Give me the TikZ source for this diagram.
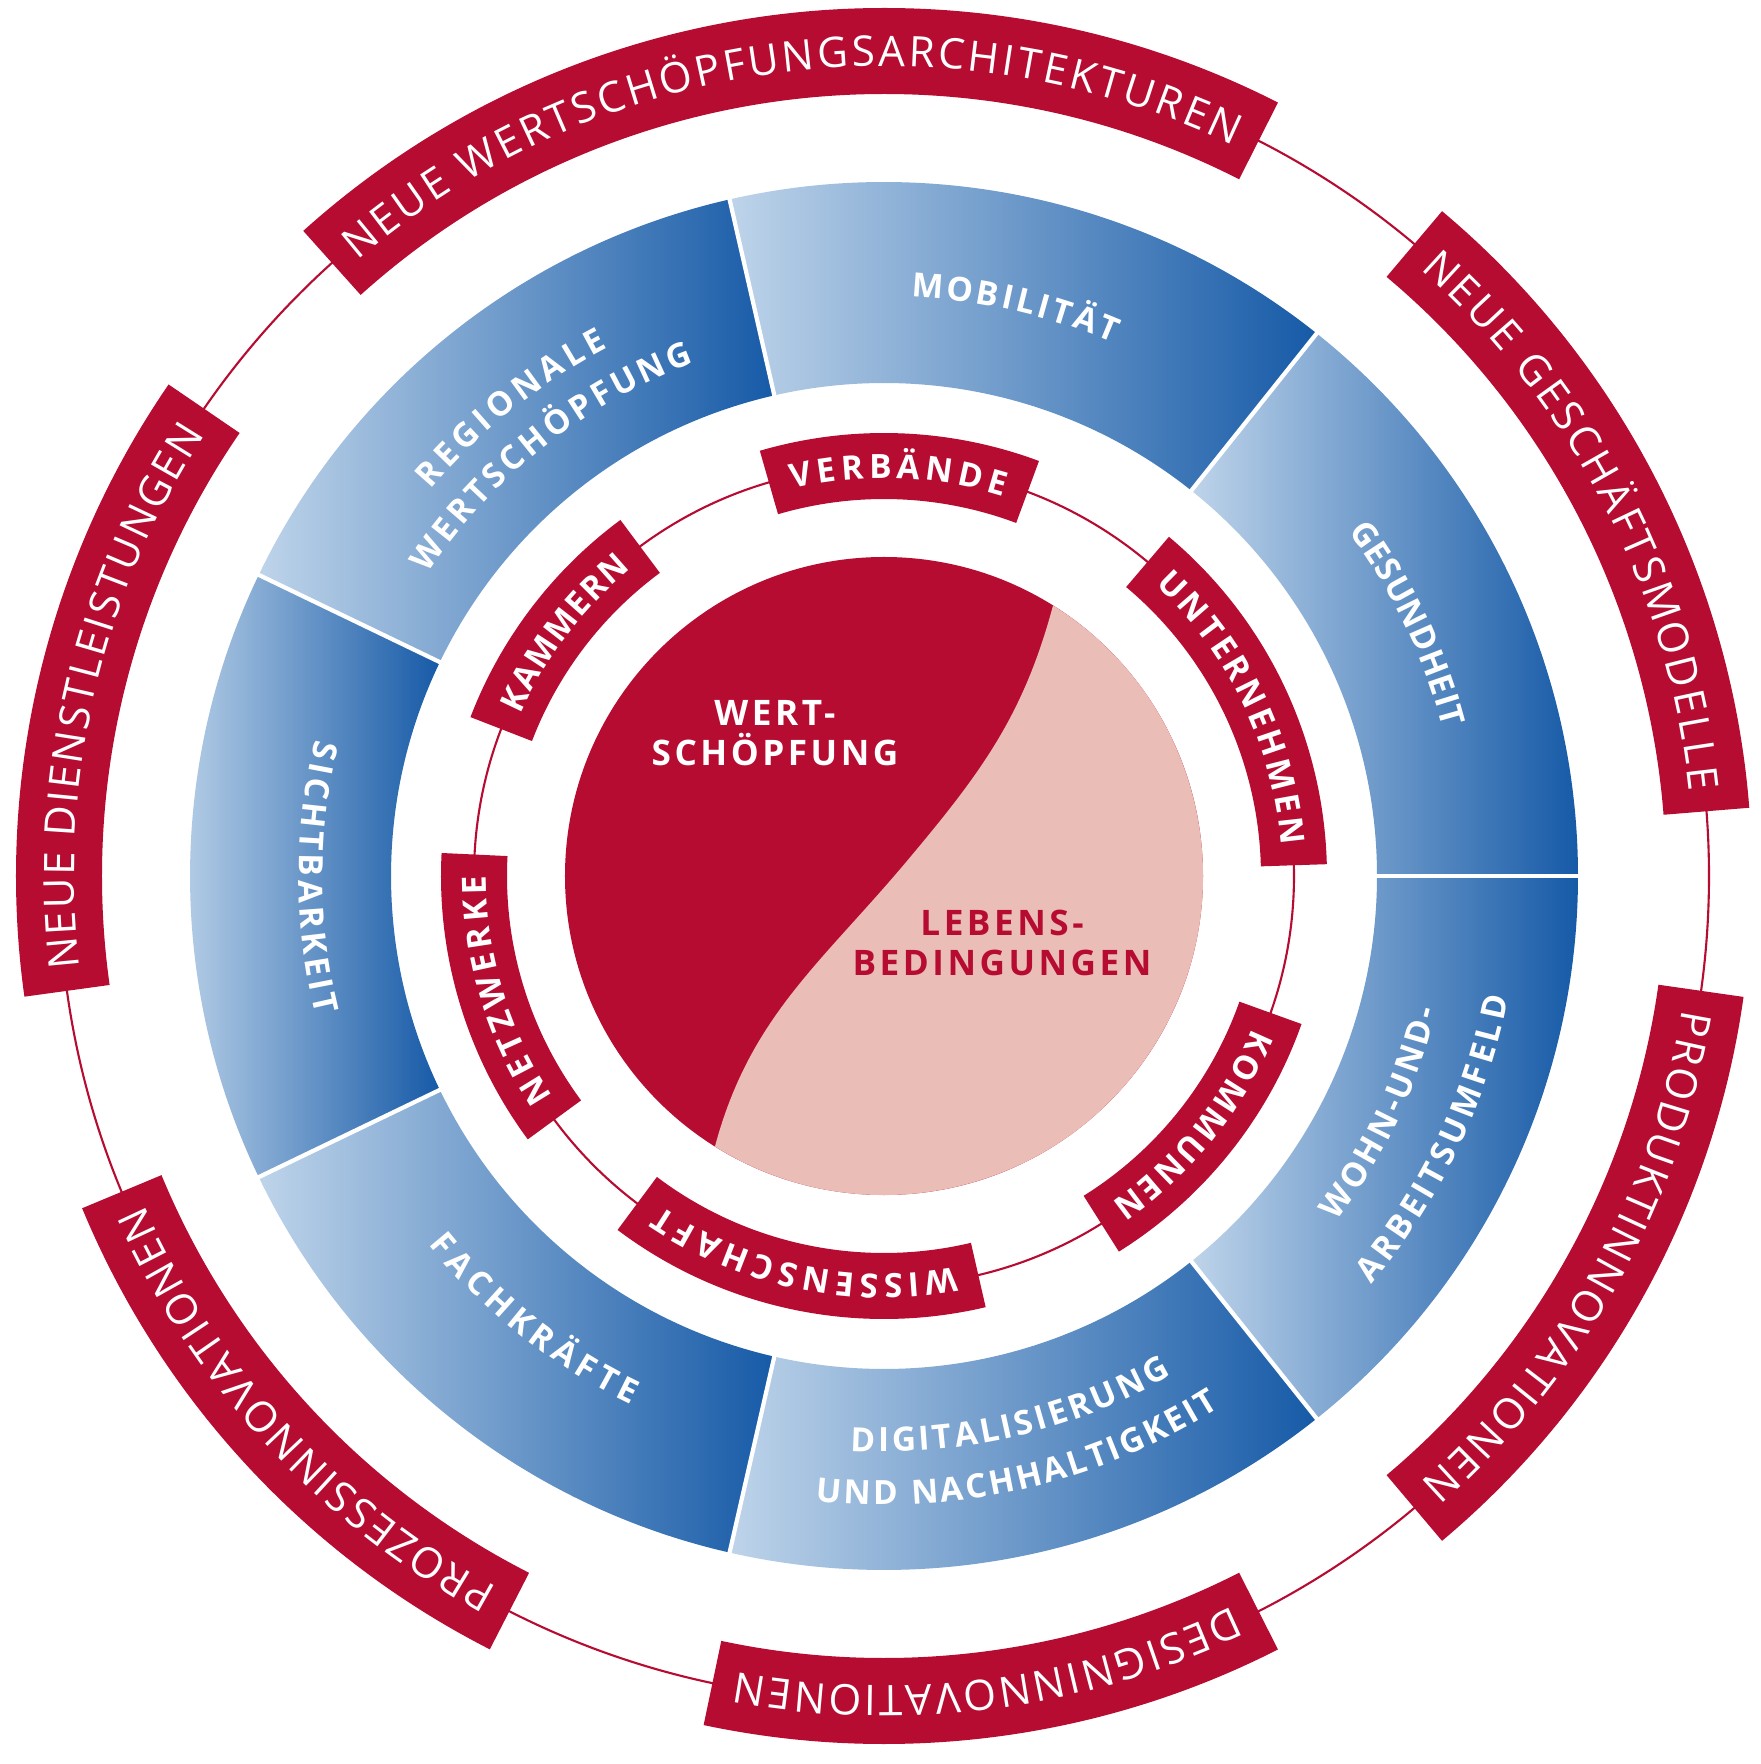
\documentclass[tikz,border=0pt]{standalone}
\usepackage{fontspec}
\setmainfont{Open Sans}
\newfontfamily\corefont{Open Sans}[LetterSpace=10]
\usetikzlibrary{decorations.text}
\definecolor{crimson}{RGB}{183,12,50}
\definecolor{blush}{RGB}{234,189,183}
\definecolor{skyL}{RGB}{190,212,234}
\definecolor{skyD}{RGB}{22,90,167}
\newcommand{\bannerfont}{\color{white}\fontsize{12}{14}\selectfont}
\newcommand{\tagfont}{\color{white}\bfseries\fontsize{9.5}{11}\selectfont}
\newcommand{\segfont}{\color{white}\bfseries\fontsize{9.5}{11}\selectfont}

\begin{document}
\begin{tikzpicture}[
    banner/.style={draw=crimson, line width=0.86cm},
    tag/.style={draw=crimson, line width=0.66cm},
    thread/.style={draw=crimson, line width=0.6pt},
    core/.style={align=center, font={\corefont\bfseries\fontsize{10}{11.5}\selectfont}}]
  \useasboundingbox (-8.84,-8.88) rectangle (8.76,8.76);
  \fill[white] (-8.84,-8.88) rectangle (8.76,8.76);

  % thin rings
  \draw[thread] (0,0) circle[radius=8.25];
  \draw[thread] (0,0) circle[radius=4.10];

  % seven blue fields
  \foreach \i in {0,...,6}{
    \pgfmathsetmacro\a{\i*360/7}
    \pgfmathsetmacro\b{(\i+1)*360/7}
    \shade[left color=skyL, right color=skyD] (\a:4.93) arc[start angle=\a, end angle=\b, radius=4.93]
      -- (\b:6.94) arc[start angle=\b, end angle=\a, radius=6.94] -- cycle;
  }
  \foreach \i in {0,...,6}
    \draw[white, line width=1.2pt] ({\i*360/7}:4.85) -- ({\i*360/7}:7.02);

  \foreach \a/\b/\rad/\lbl in {87.3/66.7/5.92/MOBILITÄT, 36.6/14.8/5.90/GESUNDHEIT,
      139.5/117.6/6.08/REGIONALE, 146.4/110.3/5.59/WERTSCHÖPFUNG,
      -37.4/-13.6/5.57/WOHN-UND-, -40/-11/6.24/ARBEITSUMFELD,
      -93.4/-60/5.64/DIGITALISIERUNG, -96.3/-57.7/6.17/UND NACHHALTIGKEIT,
      219/244.5/5.74/FACHKRÄFTE, 166.5/193.8/5.73/SICHTBARKEIT}
    \path[decorate, decoration={text along path, text align={fit to path}, raise=-3.4pt,
        text/.expanded={|\noexpand\segfont|\lbl}}]
      (\a:\rad) arc[start angle=\a, end angle=\b, radius=\rad];

  % outer banners
  \foreach \s/\e/\lbl in {63/132/NEUE WERTSCHÖPFUNGSARCHITEKTUREN, 4.5/50/NEUE GESCHÄFTSMODELLE,
      -50/-8/PRODUKTINNOVATIONEN, -102/-63/DESIGNINNOVATIONEN,
      -157.5/-117/PROZESSINNOVATIONEN, 145.5/188/NEUE DIENSTLEISTUNGEN}{
    \draw[banner] (\s:8.25) arc[start angle=\s, end angle=\e, radius=8.25];
    \path[decorate, decoration={text along path, text align={fit to path}, raise=-4.3pt,
        text/.expanded={|\noexpand\bannerfont|\lbl}}]
      ({\e-1.5}:8.25) arc[start angle=\e-1.5, end angle=\s+1.5, radius=8.25];
  }

  % inner tags
  \foreach \s/\e/\lbl in {69.5/106.3/VERBÄNDE, 1.5/50/UNTERNEHMEN, -58/-19.5/KOMMUNEN,
      -127/-76.7/WISSENSCHAFT, 177/216.5/NETZWERKE, 126.5/159/KAMMERN}{
    \draw[tag] (\s:4.10) arc[start angle=\s, end angle=\e, radius=4.10];
    \path[decorate, decoration={text along path, text align={fit to path}, raise=-3.4pt,
        text/.expanded={|\noexpand\tagfont|\lbl}}]
      ({\e-3}:4.10) arc[start angle=\e-3, end angle=\s+3, radius=4.10];
  }

  % core circle
  \fill[crimson] (0,0) circle[radius=3.19];
  \fill[blush] (58:3.19) to[out=-105, in=50] (0.23,0.15) to[out=-130, in=75] (238:3.19)
    arc[start angle=238, end angle=418, radius=3.19] -- cycle;

  \node[core, text=white] (wert) at (-1.09,1.43) {WERT-\\SCHÖPFUNG};
  \node[core, text=crimson] (leben) at (1.18,-0.67) {LEBENS-\\BEDINGUNGEN};
\end{tikzpicture}
\end{document}
